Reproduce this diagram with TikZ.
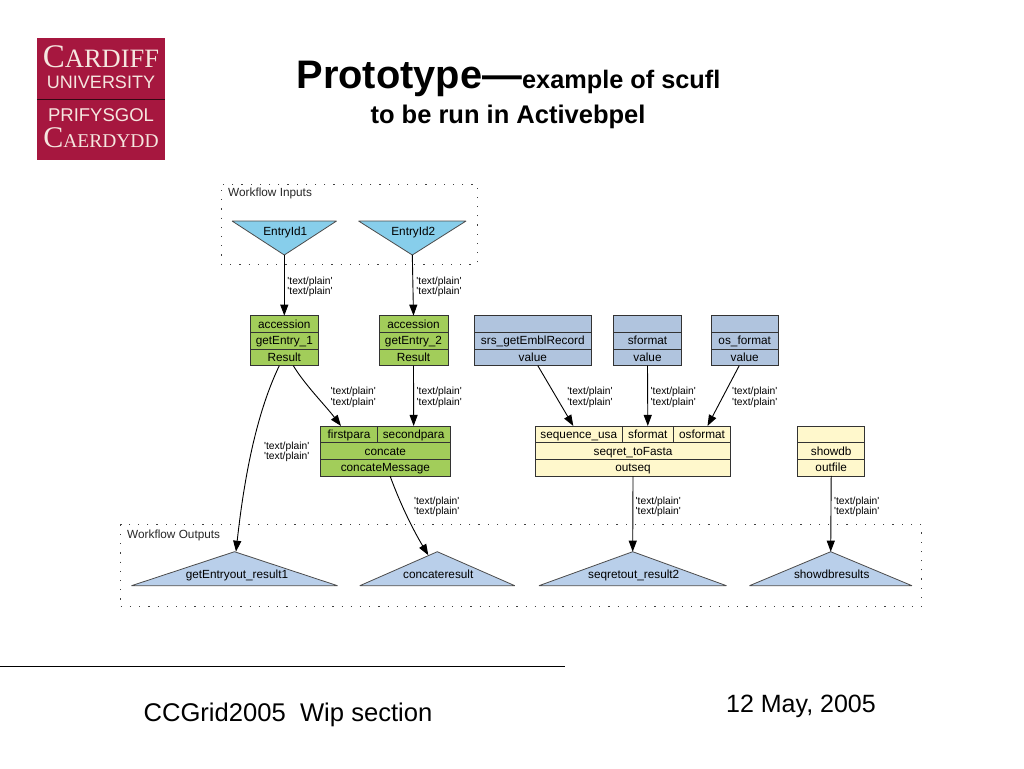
\documentclass[tikz,border=0pt]{standalone}
\usepackage{fontspec}
\usepackage{xcolor}
\usepackage{tikz}
\usetikzlibrary{shapes.geometric, arrows.meta, positioning}
\setmainfont{Liberation Sans}
\newfontfamily\diagfont{Liberation Sans}
\newfontfamily\crestfont{Liberation Serif}
\newcommand{\mimes}{'text/plain'\\'text/plain'}
\definecolor{crest}{HTML}{A6173F}
\definecolor{cresttext}{HTML}{F5E6DF}
\definecolor{sourcegreen}{HTML}{A2CD5A}
\definecolor{sourceblue}{HTML}{B0C4DE}
\definecolor{sourcecream}{HTML}{FFF8CC}
\definecolor{inputblue}{HTML}{87CEEB}
\definecolor{outputblue}{HTML}{B9CFEA}

\begin{document}
\begin{tikzpicture}[
    x=1pt, y=-1pt,
    font=\diagfont,
    >={Triangle[length=11pt,width=8pt]},
    cell/.style={rectangle, draw=black!80, line width=0.9pt, fill=#1, minimum height=16.67pt, inner sep=0pt, outer sep=0pt, text height=11pt, text depth=2.5pt, font=\diagfont\fontsize{11.8}{12}\selectfont},
    intri/.style={isosceles triangle, isosceles triangle stretches, shape border rotate=-90, draw=black!70, line width=0.8pt, line join=bevel, fill=inputblue, inner sep=0pt, outer sep=0pt, minimum width=#1, minimum height=34pt},
    outtri/.style={isosceles triangle, isosceles triangle stretches, shape border rotate=90, draw=black!70, line width=0.8pt, line join=bevel, fill=outputblue, inner sep=0pt, outer sep=0pt, minimum width=#1, minimum height=34pt},
    trilabel/.style={inner sep=0pt, xshift=1pt, text height=9pt, text depth=2.5pt, font=\diagfont\fontsize{11.8}{12}\selectfont},
    group/.style={rectangle, draw=black!75, line width=1pt, dash pattern=on 1.2pt off 8pt, minimum width=#1, inner sep=0pt},
    grouptitle/.style={anchor=west, inner sep=0pt, font=\diagfont\fontsize{11.8}{12}\selectfont, text=black!85},
    mime/.style={align=center, inner sep=0pt, font=\diagfont\fontsize{10.3}{9.5}\selectfont},
    flow/.style={->, line width=0.9pt},
    title/.style={inner sep=0pt, font=\fontsize{25.5}{25.5}\selectfont\bfseries},
    foot/.style={inner sep=0pt, font=\fontsize{25}{25}\selectfont},
    crestline/.style={inner sep=0pt, text=cresttext},
]
    \useasboundingbox (0,0) rectangle (1024,768);

    % Crest
    \node[rectangle, fill=crest, minimum width=128pt, minimum height=122pt, inner sep=0pt] (crestbox) at (101,99) {};
    \draw[black!70!crest, line width=0.8pt] (crestbox.west) -- (crestbox.east);
    \node[crestline, font=\crestfont\fontsize{33}{33}\selectfont] (crestA) at (101,57) {C\fontsize{26.5}{26.5}\selectfont ARDIFF};
    \node[crestline, font=\fontsize{18}{18}\selectfont] (crestB) at (101,82) {UNIVERSITY};
    \node[crestline, font=\fontsize{18.5}{18.5}\selectfont] (crestC) at (101,115) {PRIFYSGOL};
    \node[crestline, font=\crestfont\fontsize{30}{30}\selectfont] (crestD) at (101,138) {C\fontsize{19.5}{19.5}\selectfont AERDYDD};

    % Title
    \node[title] (titleA) at (508.5,79) {\fontsize{39.8}{40}\selectfont Prototype—\fontsize{25.3}{25}\selectfont example of scufl};
    \node[title] (titleB) at (508,117) {to be run in Activebpel};

    % Workflow groups
    \node[group=256pt, minimum height=80pt] (inputs) at (349,224) {};
    \node[grouptitle] (inputsT) at (228,193) {Workflow Inputs};
    \node[group=801pt, minimum height=81.7pt] (outputs) at (521.2,565.8) {};
    \node[grouptitle] (outputsT) at (127,535.5) {Workflow Outputs};

    % Inputs
    \node[intri=104.5pt, anchor=apex] (entryA) at (284.3,255) {};
    \node[trilabel] (entryAT) at ([yshift=22.5pt]entryA.apex) {EntryId1};
    \node[intri=107.5pt, anchor=apex] (entryB) at (412.3,255) {};
    \node[trilabel] (entryBT) at ([yshift=22.5pt]entryB.apex) {EntryId2};

    % getEntry_1
    \node[cell=sourcegreen, minimum width=67.4pt] (accA) at (284.3,324) {accession};
    \node[cell=sourcegreen, minimum width=67.4pt, below=0pt of accA] (getA) {getEntry\_1};
    \node[cell=sourcegreen, minimum width=67.4pt, below=0pt of getA] (resA) {Result};

    % getEntry_2
    \node[cell=sourcegreen, minimum width=69pt] (accB) at (413.5,324) {accession};
    \node[cell=sourcegreen, minimum width=69pt, below=0pt of accB] (getB) {getEntry\_2};
    \node[cell=sourcegreen, minimum width=69pt, below=0pt of getB] (resB) {Result};

    % Blue sources
    \node[cell=sourceblue, minimum width=117pt] (srsT) at (532.8,324) {};
    \node[cell=sourceblue, minimum width=117pt, below=0pt of srsT] (srsM) {srs\_getEmblRecord};
    \node[cell=sourceblue, minimum width=117pt, below=0pt of srsM] (srsV) {value};
    \node[cell=sourceblue, minimum width=67.6pt] (fmtT) at (647.5,324) {};
    \node[cell=sourceblue, minimum width=67.6pt, below=0pt of fmtT] (fmtM) {sformat};
    \node[cell=sourceblue, minimum width=67.6pt, below=0pt of fmtM] (fmtV) {value};
    \node[cell=sourceblue, minimum width=67.3pt] (osT) at (744.7,324) {};
    \node[cell=sourceblue, minimum width=67.3pt, below=0pt of osT] (osM) {os\_format};
    \node[cell=sourceblue, minimum width=67.3pt, below=0pt of osM] (osV) {value};

    % concate
    \node[cell=sourcegreen, minimum width=56.6pt] (firstP) at (349,434.3) {firstpara};
    \node[cell=sourcegreen, minimum width=72.7pt, right=0pt of firstP] (secondP) {secondpara};
    \node[cell=sourcegreen, minimum width=129.3pt] (concM) at (385.35,451) {concate};
    \node[cell=sourcegreen, minimum width=129.3pt, below=0pt of concM] (concR) {concateMessage};

    % seqret_toFasta
    \node[cell=sourcecream, minimum width=87pt] (seqU) at (578.8,434.3) {sequence\_usa};
    \node[cell=sourcecream, minimum width=51pt, right=0pt of seqU] (seqF) {sformat};
    \node[cell=sourcecream, minimum width=57.4pt, right=0pt of seqF] (seqO) {osformat};
    \node[cell=sourcecream, minimum width=195.4pt] (seqM) at (633,451) {seqret\_toFasta};
    \node[cell=sourcecream, minimum width=195.4pt, below=0pt of seqM] (seqR) {outseq};

    % showdb
    \node[cell=sourcecream, minimum width=67pt] (dbT) at (831.2,434.3) {};
    \node[cell=sourcecream, minimum width=67pt, below=0pt of dbT] (dbM) {showdb};
    \node[cell=sourcecream, minimum width=67pt, below=0pt of dbM] (dbR) {outfile};

    % Outputs
    \node[outtri=206pt, anchor=apex] (outA) at (234.5,551.7) {};
    \node[trilabel] (outAT) at ([xshift=1.5pt,yshift=-24pt]outA.apex) {getEntryout\_result1};
    \node[outtri=155pt, anchor=apex] (outB) at (437.3,551.7) {};
    \node[trilabel] (outBT) at ([yshift=-24pt]outB.apex) {concateresult};
    \node[outtri=187.5pt, anchor=apex] (outC) at (632.7,551.7) {};
    \node[trilabel] (outCT) at ([yshift=-24pt]outC.apex) {seqretout\_result2};
    \node[outtri=162.5pt, anchor=apex] (outD) at (830.7,551.7) {};
    \node[trilabel] (outDT) at ([yshift=-24pt]outD.apex) {showdbresults};

    % Arrows
    \draw[flow] (entryA.apex) -- (accA.north);
    \draw[flow] (entryB.apex) -- (accB.north);
    \draw[flow] ([xshift=-5pt]resA.south) .. controls (258,410) and (245,470) .. ([xshift=1.5pt]outA.apex);
    \draw[flow] ([xshift=9pt]resA.south) .. controls (305,385) and (325,405) .. ([xshift=-8pt]firstP.north);
    \draw[flow] (resB.south) -- (secondP.north);
    \draw[flow] ([xshift=5pt]srsV.south) -- ([xshift=-5.5pt]seqU.north);
    \draw[flow] (fmtV.south) -- (seqF.north);
    \draw[flow] ([xshift=-5.5pt]osV.south) -- ([xshift=5.5pt]seqO.north);
    \draw[flow] ([xshift=4.7pt]concR.south) .. controls (400,503) and (412,528) .. ([xshift=-9pt,yshift=-3.5pt]outB.apex);
    \draw[flow] (seqR.south) -- (outC.apex);
    \draw[flow] (dbR.south) -- (outD.apex);

    % Edge labels
    \node[mime] (mimeA) at (310,286.7) {\mimes};
    \node[mime] (mimeB) at (439,286.7) {\mimes};
    \node[mime] (mimeC) at (286.7,451.7) {\mimes};
    \node[mime] (mimeD) at (353.3,397.4) {\mimes};
    \node[mime] (mimeE) at (439.3,397.4) {\mimes};
    \node[mime] (mimeF) at (590,397.4) {\mimes};
    \node[mime] (mimeG) at (673.3,397.4) {\mimes};
    \node[mime] (mimeH) at (754.7,397.4) {\mimes};
    \node[mime] (mimeI) at (436.7,507) {\mimes};
    \node[mime] (mimeJ) at (658.3,507) {\mimes};
    \node[mime] (mimeK) at (856.7,507) {\mimes};

    % Footer
    \node[rectangle, inner sep=0pt, minimum width=565pt, minimum height=0pt] (rule) at (282.5,666) {};
    \draw[line width=0.9pt] (rule.west) -- (rule.east);
    \node[foot, font=\fontsize{25.6}{25.6}\selectfont] (footA) at (288,715) {CCGrid2005\ \ Wip section};
    \node[foot] (footB) at (801,706) {12 May, 2005};
\end{tikzpicture}
\end{document}
